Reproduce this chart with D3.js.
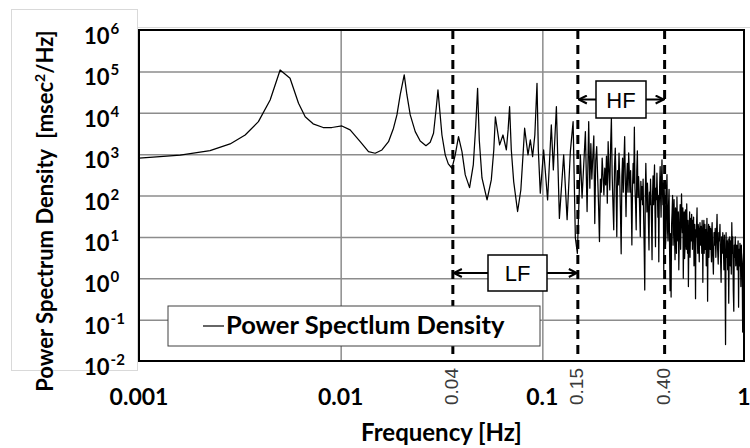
<!DOCTYPE html>
<html><head><meta charset="utf-8">
<script src="https://cdn.jsdelivr.net/npm/d3@7"></script>
<style>body{margin:0;background:#fff}svg{display:block}</style>
</head><body>
<svg id="c" width="750" height="448"></svg>
<script>
// ---- data ----
const freq = [
 0.00100,0.00127,0.00160,0.00225,0.00283,0.00336,0.00391,0.00447,0.00501,0.00561,
 0.00618,0.00667,0.00730,0.00819,0.00904,0.01014,0.01114,0.01250,0.01374,0.01483,
 0.01602,0.01727,0.01828,0.01901,0.01973,0.02066,0.02131,0.02213,0.02343,0.02480,
 0.02648,0.02780,0.02887,0.02978,0.03037,0.03093,0.03178,0.03300,0.03417,0.03565,
 0.03700,0.03840,0.03995,0.04148,0.04357,0.04546,0.04677,0.04775,0.04868,0.05020,
 0.05320,0.05584,0.05745,0.05850,0.06140,0.06380,0.06630,0.06765,0.06880,0.07017,
 0.07210,0.07540,0.07823,0.08049,0.08170,0.08490,0.08720,0.08950,0.09180,0.09410,
 0.09553,0.09770,0.10150,0.10620,0.11080,0.11340,0.11740,0.12150,0.12760,0.13270,
 0.13770,0.14210,0.14580,0.14920,0.15440,0.15740,0.16350,0.16670,0.16980,
 0.172,0.174,0.176,0.178,0.180,0.182,0.184,0.186,0.188,0.190,
 0.192,0.194,0.196,0.198,0.200,0.202,0.204,0.206,0.208,0.210,
 0.212,0.214,0.216,0.218,0.220,0.222,0.224,0.226,0.228,0.230,
 0.232,0.234,0.236,0.238,0.240,0.242,0.244,0.246,0.248,0.250,
 0.252,0.254,0.256,0.258,0.260,0.262,0.264,0.266,0.268,0.270,
 0.272,0.274,0.276,0.278,0.280,0.282,0.284,0.286,0.288,0.290,
 0.292,0.294,0.296,0.298,0.300,0.302,0.304,0.306,0.308,0.310,
 0.312,0.314,0.316,0.318,0.320,0.322,0.324,0.326,0.328,0.330,
 0.332,0.334,0.336,0.338,0.340,0.342,0.344,0.346,0.348,0.350,
 0.352,0.354,0.356,0.358,0.360,0.362,0.364,0.366,0.368,0.370,
 0.372,0.374,0.376,0.378,0.380,0.382,0.384,0.386,0.388,0.390,
 0.392,0.394,0.396,0.398,
 0.4000,0.4025,0.4050,0.4075,0.4100,0.4125,0.4150,0.4175,0.4200,0.4225,
 0.4250,0.4275,0.4300,0.4325,0.4350,0.4375,0.4400,0.4425,0.4450,0.4475,
 0.4500,0.4525,0.4550,0.4575,0.4600,0.4625,0.4650,0.4675,0.4700,0.4725,
 0.4750,0.4775,0.4800,0.4825,0.4850,0.4875,0.4900,0.4925,0.4950,0.4975,
 0.5000,0.5025,0.5050,0.5075,0.5100,0.5125,0.5150,0.5175,0.5200,0.5225,
 0.5250,0.5275,0.5300,0.5325,0.5350,0.5375,0.5400,0.5425,0.5450,0.5475,
 0.5500,0.5525,0.5550,0.5575,0.5600,0.5625,0.5650,0.5675,0.5700,0.5725,
 0.5750,0.5775,0.5800,0.5825,0.5850,0.5875,0.5900,0.5925,0.5950,0.5975,
 0.6000,0.6025,0.6050,0.6075,0.6100,0.6125,0.6150,0.6175,0.6200,0.6225,
 0.6250,0.6275,0.6300,0.6325,0.6350,0.6375,0.6400,0.6425,0.6450,0.6475,
 0.6500,0.6525,0.6550,0.6575,0.6600,0.6625,0.6650,0.6675,0.6700,0.6725,
 0.6750,0.6775,0.6800,0.6825,0.6850,0.6875,0.6900,0.6925,0.6950,0.6975,
 0.700,0.705,0.710,0.715,0.720,0.725,0.730,0.735,0.740,0.745,
 0.750,0.755,0.760,0.765,0.770,0.775,0.780,0.785,0.790,0.795,
 0.800,0.805,0.810,0.815,0.820,0.825,0.830,0.835,0.840,0.845,
 0.850,0.855,0.860,0.865,0.870,0.875,0.880,0.885,0.890,0.895,
 0.900,0.905,0.910,0.915,0.920,0.925,0.930,0.935,0.940,0.945,
 0.950,0.955,0.960,0.965,0.970,0.975,0.980,0.985,0.990,0.995,1.000
];
const psd = [
 800,870,950,1220,1760,2900,6100,20400,108000,68000,
 17000,8000,5400,4400,4400,4800,3850,2000,1150,1050,
 1260,2000,4230,8850,26900,82000,26900,8850,3490,2080,
 1600,1940,3200,13000,35500,12900,2900,960,580,456,
 960,2650,1150,315,155,548,5070,39000,2200,266,
 78,238,1260,8000,1670,2900,1260,3850,14000,1260,
 217,41,136,1260,4230,960,2200,870,2900,51600,
 1260,114,1260,78,5070,415,14000,28,960,26,
 1150,6100,9.5,4.0,960,87,3500,41,6100,
 150,1800,250,900,2750,21,700,1520,300,60,
 7.7,250,120,800,300,103,456,180,900,65,
 2000,400,136,1500,7360,300,60,14.8,500,1390,
 200,10.2,400,180,1050,250,40,3.9,300,800,
 120,700,2650,200,31,250,600,120,1070,350,
 120,400,80,6.4,150,600,200,4470,150,60,
 14.8,400,1200,90,286,130,40,10.2,220,80,
 164,60,250,30,5,0.52,100,600,150,40,
 198,90,20,4.85,120,60,248,80,20,2.8,
 100,300,60,200,548,40,5.8,150,80,346,
 120,30,100,2.5,60,200,500,90,30,250,
 724,150,60,200,
 1.6,40,160,6,10,120,320,15,8,60,
 140,5,0.5,12,0.35,20,40,100,6.3,30,
 80,10,2.8,50,32,4,93,20,8,40,
 1.6,8,25,60,5,20,110,30,12.6,50,
 1.0,10,40,3,6.3,45,20,5,63,15,
 4,25,0.63,6,16,40,3.2,12,28,8,
 35,20,5,25,12.6,30,2,10,20,6,
 0.32,15,10,25,50,8,4,20,16,6,
 2.5,12,22,9,6.3,18,12.6,4,25,10,
 0.8,8,16,25,4,12,20,5,8,15,
 2,10,28,6,0.28,5,10,20,3.2,8,
 18,12,5,16,10,4,2.5,14,22,7,
 4,1.26,12.6,6.3,16,3.2,10,35,5,2.2,
 12.6,8,20,3.2,0.8,10,4,12.6,6.3,1.6,
 11,2.5,0.025,12.6,3.2,8,1.6,9,0.25,5,
 10,2,8,1.26,22,4,10,0.5,0.16,6.3,
 3.2,10,2,5,6.3,1.6,4,8,0.2,5,
 2,7,3.2,0.63,6.3,2.5,1.26,0.05,2.5,4,1.6
];
const seriesName = "Power Spectlum Density";
const xTicks = [0.001, 0.01, 0.1, 1];
const xTickLabels = ["0.001", "0.01", "0.1", "1"];
const yTicks = [1e-2, 1e-1, 1e0, 1e1, 1e2, 1e3, 1e4, 1e5, 1e6];
const yTickExponents = ["-2", "-1", "0", "1", "2", "3", "4", "5", "6"];
const bandLines = [0.036, 0.15, 0.404];
const bandLineLabels = ["0.04", "0.15", "0.40"];
const bandNames = ["LF", "HF"];
const xTitle = "Frequency [Hz]";
const yTitle = "Power Spectrum Density\u00a0\u00a0[msec";
const yTitleTail = "/Hz]";

// ---- drawing ----
const svg = d3.select("#c");
const L = 139, R = 744, T = 30, B = 361;
const x = d3.scaleLog().domain([0.001, 1]).range([L, R]);
const y = d3.scaleLog().domain([0.01, 1e6]).range([B, T]);
const boldFont = "Lato, 'Open Sans', sans-serif";
const armFont = "'Liberation Sans', Arial, sans-serif";

// faint chart-object outlines
svg.append("rect").attr("x", 11.5).attr("y", 9.5).attr("width", 126).attr("height", 361)
  .attr("fill", "none").attr("stroke", "#d9d9d9");
svg.append("line").attr("x1", 137.5).attr("x2", 750).attr("y1", 27.5).attr("y2", 27.5)
  .attr("stroke", "#d9d9d9");

// gridlines
svg.append("g").attr("transform", `translate(0,${B})`)
  .call(d3.axisBottom(x).tickValues([0.01, 0.1]).tickSize(-(B - T)).tickFormat(""))
  .call(g => g.select(".domain").remove())
  .call(g => g.selectAll("line").attr("stroke", "#8c8c8c").attr("stroke-width", 1.5));
svg.append("g").attr("transform", `translate(${L},0)`)
  .call(d3.axisLeft(y).tickValues(yTicks.slice(1, -1)).tickSize(-(R - L)).tickFormat(""))
  .call(g => g.select(".domain").remove())
  .call(g => g.selectAll("line").attr("stroke", "#8c8c8c").attr("stroke-width", 1.5));

// band dashed lines
svg.append("g").selectAll("line").data(bandLines).join("line")
  .attr("x1", d => x(d)).attr("x2", d => x(d)).attr("y1", T).attr("y2", B)
  .attr("stroke", "#000").attr("stroke-width", 3).attr("stroke-dasharray", "9,6");

// spectrum line
const pts = freq.map((f, i) => [f, psd[i]]);
svg.append("path").datum(pts)
  .attr("d", d3.line().x(d => x(d[0])).y(d => y(d[1])))
  .attr("fill", "none").attr("stroke", "#000").attr("stroke-width", 1.25)
  .attr("stroke-linejoin", "round");

// plot border
svg.append("rect").attr("x", L).attr("y", T).attr("width", R - L).attr("height", B - T)
  .attr("fill", "none").attr("stroke", "#000").attr("stroke-width", 2);

// y tick labels with superscript exponents (left aligned, like the original)
const yl = svg.append("g").selectAll("text").data(yTicks).join("text")
  .attr("x", 84).attr("y", d => y(d) + 14)
  .attr("text-anchor", "start").attr("font-family", boldFont).attr("font-weight", "bold")
  .attr("font-size", 22).attr("fill", "#000");
yl.append("tspan").text("10");
yl.append("tspan").attr("dx", 1).attr("dy", -10).attr("font-size", 15).text((d, i) => yTickExponents[i]);

// x tick labels
svg.append("g").selectAll("text").data(xTicks).join("text")
  .attr("x", d => x(d)).attr("y", 405)
  .attr("text-anchor", "middle").attr("font-family", boldFont).attr("font-weight", "bold")
  .attr("font-size", 23).attr("fill", "#000")
  .text((d, i) => xTickLabels[i]);

// rotated band labels
svg.append("g").selectAll("text").data(bandLines).join("text")
  .attr("transform", d => `translate(${x(d) + 5},368) rotate(-90)`)
  .attr("text-anchor", "end").attr("font-family", armFont)
  .attr("font-size", 19).attr("fill", "#3a3a3a")
  .text((d, i) => bandLineLabels[i]);

// axis titles
svg.append("text").attr("x", (L + R) / 2).attr("y", 441).attr("text-anchor", "middle")
  .attr("font-family", boldFont).attr("font-weight", "bold").attr("font-size", 24)
  .text(xTitle);
const yt = svg.append("text").attr("transform", "translate(53,211) rotate(-90)")
  .attr("text-anchor", "middle").attr("font-family", boldFont).attr("font-weight", "bold")
  .attr("font-size", 22);
yt.append("tspan").text(yTitle);
yt.append("tspan").attr("dy", -8).attr("font-size", 14).text("2");
yt.append("tspan").attr("dy", 8).text(yTitleTail);

// band boxes with arrows
const defs = svg.append("defs");
defs.append("marker").attr("id", "ah").attr("viewBox", "0 0 10 10").attr("refX", 9).attr("refY", 5)
  .attr("markerWidth", 10).attr("markerHeight", 10).attr("markerUnits", "userSpaceOnUse")
  .attr("orient", "auto-start-reverse")
  .append("path").attr("d", "M1,1 L9,5 L1,9").attr("fill", "none").attr("stroke", "#000").attr("stroke-width", 2);

const boxes = [
  {name: bandNames[0], from: bandLines[0], to: bandLines[1], x0: 488, x1: 547, y0: 255, y1: 291},
  {name: bandNames[1], from: bandLines[1], to: bandLines[2], x0: 596, x1: 646, y0: 81, y1: 118}
];
boxes.forEach(b => {
  const cy = (b.y0 + b.y1) / 2;
  svg.append("line").attr("x1", b.x0).attr("x2", x(b.from) + 1).attr("y1", cy).attr("y2", cy)
    .attr("stroke", "#000").attr("stroke-width", 2).attr("marker-end", "url(#ah)");
  svg.append("line").attr("x1", b.x1).attr("x2", x(b.to) - 1).attr("y1", cy).attr("y2", cy)
    .attr("stroke", "#000").attr("stroke-width", 2).attr("marker-end", "url(#ah)");
  svg.append("rect").attr("x", b.x0).attr("y", b.y0).attr("width", b.x1 - b.x0).attr("height", b.y1 - b.y0)
    .attr("fill", "#fff").attr("stroke", "#000").attr("stroke-width", 1.5);
  svg.append("text").attr("x", (b.x0 + b.x1) / 2).attr("y", cy + 8).attr("text-anchor", "middle")
    .attr("font-family", armFont).attr("font-size", 22).text(b.name);
});

// legend
svg.append("rect").attr("x", 168).attr("y", 306).attr("width", 372).attr("height", 40)
  .attr("fill", "#fff").attr("stroke", "#404040").attr("stroke-width", 1);
svg.append("line").attr("x1", 203).attr("x2", 224).attr("y1", 326).attr("y2", 326)
  .attr("stroke", "#000").attr("stroke-width", 1.2);
svg.append("text").attr("x", 226).attr("y", 334).attr("font-family", boldFont).attr("font-weight", "bold")
  .attr("font-size", 25.5).text(seriesName);
</script>
</body></html>
